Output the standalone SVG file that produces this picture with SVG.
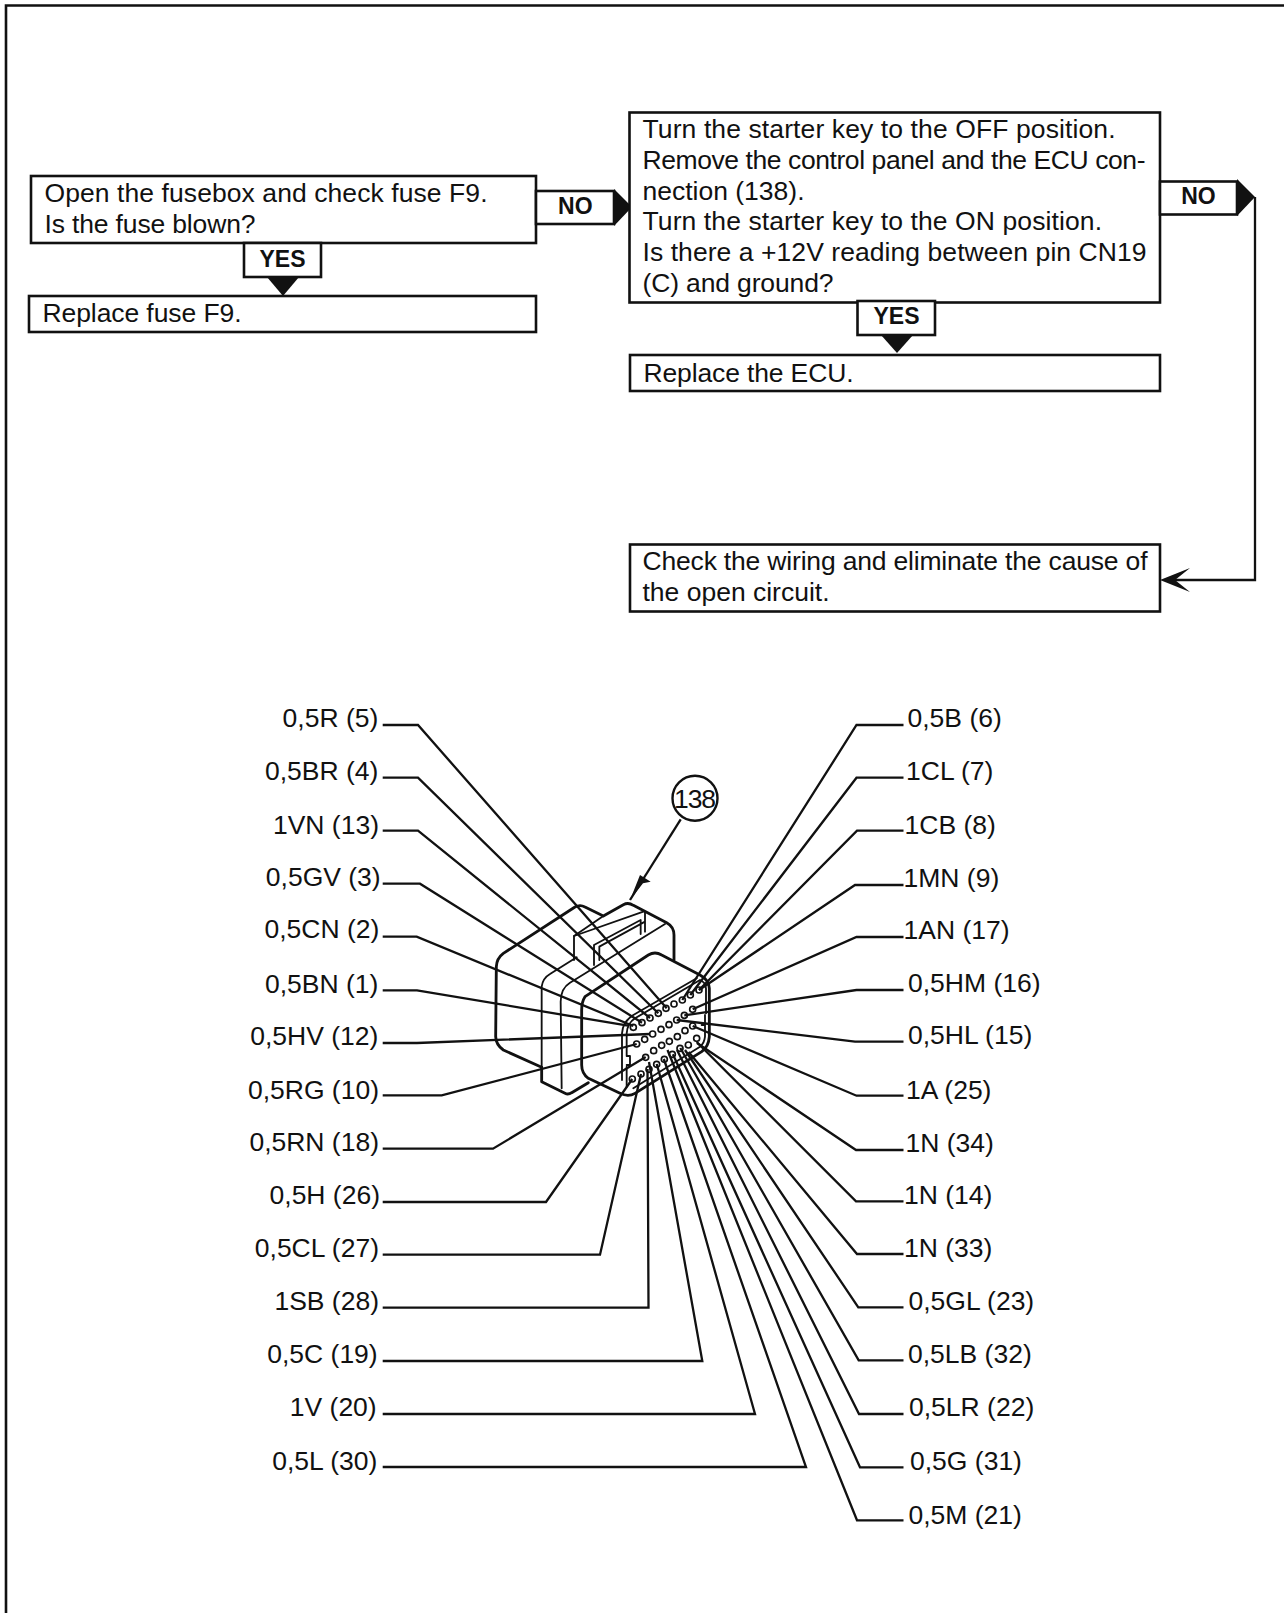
<svg xmlns="http://www.w3.org/2000/svg" width="1284" height="1613" viewBox="0 0 1284 1613">
<style>
text{font-family:"Liberation Sans",Arial,sans-serif;fill:#111}
.t{font-size:26.5px}
.l{font-size:26.5px}
.e{text-anchor:end}
.b{font-size:23px;font-weight:700;text-anchor:middle}
.box{fill:#fff;stroke:#111;stroke-width:2.6}
.w{fill:none;stroke:#111;stroke-width:2.3;stroke-linejoin:miter}
.k{fill:#111;stroke:none}
.o{fill:none;stroke:#111;stroke-width:8.5;stroke-linejoin:round;stroke-linecap:round}
.o2{fill:none;stroke:#111;stroke-width:5.5;stroke-linejoin:round;stroke-linecap:round}
.p{fill:none;stroke:#111;stroke-width:5}
</style>
<rect width="1284" height="1613" fill="#fff"/>
<path id="frame" d="M6 1613V5.5H1284" fill="none" stroke="#111" stroke-width="2.6"/>

<g id="connector-body" transform="translate(470 780) scale(.33333)">
<path class="o" d="M612 540V465Q612 440 590 428L490 376Q475 366 460 374L400 408L345 381Q330 373 315 381L100 520Q80 535 79 560L77 770Q78 795 100 810L215 862"/>
<path class="o" d="M215 862V905L285 940Q295 945 305 938L355 908"/>
<path class="o2" d="M215 862V620Q218 595 240 582L320 532"/>
<path class="o2" d="M275 925L272 665Q272 625 300 608L585 432"/>
<path class="o2" d="M312 540V468L520 395"/>
<path class="o2" d="M312 468L400 408M372 555V495L512 420V462M388 540V500L525 425V455M525 395V450"/>
<path class="o" d="M345 650L535 525Q555 513 575 525L690 585Q717 600 718 625V770Q716 800 695 815L495 940Q475 952 450 940L355 895Q335 880 335 855V690Q335 665 345 650"/>
<path class="o2" d="M456 900V760Q458 725 490 705L680 595"/>
<path class="o2" d="M470 920V860M470 800V760Q472 730 495 715L690 600Q706 606 708 625V700"/>
<path class="o2" d="M470 800V828H480V855H470M705 705V735H695M705 735V770Q703 790 690 800L490 925"/>
<g class="p">
<circle cx="490" cy="742" r="9"/><circle cx="516" cy="728" r="9"/><circle cx="540" cy="714" r="9"/><circle cx="565" cy="700" r="9"/><circle cx="588" cy="685" r="9"/><circle cx="612" cy="672" r="9"/><circle cx="637" cy="660" r="9"/><circle cx="661" cy="645" r="9"/><circle cx="687" cy="630" r="9"/>
<circle cx="500" cy="792" r="9"/><circle cx="524" cy="778" r="9"/><circle cx="548" cy="762" r="9"/><circle cx="573" cy="748" r="9"/><circle cx="597" cy="734" r="9"/><circle cx="620" cy="720" r="9"/><circle cx="643" cy="706" r="9"/><circle cx="668" cy="688" r="9"/>
<circle cx="527" cy="832" r="9"/><circle cx="551" cy="812" r="9"/><circle cx="575" cy="796" r="9"/><circle cx="598" cy="784" r="9"/><circle cx="622" cy="770" r="9"/><circle cx="645" cy="752" r="9"/><circle cx="668" cy="738" r="9"/>
<circle cx="487" cy="897" r="9"/><circle cx="513" cy="882" r="9"/><circle cx="537" cy="868" r="9"/><circle cx="560" cy="853" r="9"/><circle cx="583" cy="838" r="9"/><circle cx="607" cy="823" r="9"/><circle cx="630" cy="805" r="9"/><circle cx="655" cy="795" r="9"/><circle cx="680" cy="775" r="9"/>
</g>
</g>

<g id="connectors">
<path class="w" d="M382.7 725H418L666.7 1008.3"/>
<path class="w" d="M382.7 777.7H418L658.3 1013.3"/>
<path class="w" d="M382.7 830.7H418L650 1018"/>
<path class="w" d="M382.7 883.7H420L642 1022.7"/>
<path class="w" d="M382.7 936.7H416.7L633.3 1026"/>
<path class="w" d="M382.7 990.3H417L628 1025.7"/>
<path class="w" d="M382.7 1043H417L650 1034"/>
<path class="w" d="M382.7 1095.3H441.7L636.7 1044"/>
<path class="w" d="M382.7 1148.7H493L645.7 1057"/>
<path class="w" d="M382.7 1202H546L632.3 1079"/>
<path class="w" d="M382.7 1254.7H600L641 1074"/>
<path class="w" d="M382.7 1307.7H648.5L647.5 1069"/>
<path class="w" d="M382.7 1361H702.3L649 1062"/>
<path class="w" d="M382.7 1414H755L656.7 1064"/>
<path class="w" d="M382.7 1467H806L663.8 1059"/>
<path class="w" d="M903.5 725H856.5L682.3 1000"/>
<path class="w" d="M903.5 777.7H856.5L690.3 995"/>
<path class="w" d="M903.5 830.7H857L699 990"/>
<path class="w" d="M903.5 885H855L699 990"/>
<path class="w" d="M903.5 937H856.5L692.7 1009.3"/>
<path class="w" d="M903.5 990H856.5L684.3 1015.3"/>
<path class="w" d="M903.5 1041.7H855L676.7 1020"/>
<path class="w" d="M903.5 1095.7H856.5L692.7 1026"/>
<path class="w" d="M903.5 1150H856L697 1043"/>
<path class="w" d="M903.5 1201.3H856L696.7 1042"/>
<path class="w" d="M903.5 1254H857L688.6 1052"/>
<path class="w" d="M903.5 1307.3H858.3L685 1050"/>
<path class="w" d="M903.5 1360.3H858.7L680.3 1048"/>
<path class="w" d="M903.5 1414H859L677 1050"/>
<path class="w" d="M903.5 1467.3H860L672.9 1054.3"/>
<path class="w" d="M903.5 1520.3H857L667.5 1050"/>
<path class="w" d="M680.7 819.3L630 900"/>
<path class="k" d="M630 900L640 875L650.7 881.7L643 883.3Z"/>
<path class="w" d="M1255 197V580H1170"/>
<path class="k" d="M1160 580L1190 568L1175 580L1190 592Z"/>
</g>

<g id="callout-138"><circle cx="695" cy="798.3" r="22.5" fill="#fff" stroke="#111" stroke-width="2.4"/><text x="695" y="808" font-size="26.5" text-anchor="middle" textLength="42">138</text></g>

<g id="n-fuse"><rect class="box" x="31" y="176" width="505" height="67"/><text class="t" x="44.5" y="202.2" textLength="443">Open the fusebox and check fuse F9.</text><text class="t" x="44.5" y="233" textLength="211">Is the fuse blown?</text></g>
<g id="n-no1"><rect class="box" x="536" y="191" width="78" height="33"/><path class="k" d="M614 189L632 207L614 226Z"/><text class="b" x="575.3" y="214">NO</text></g>
<g id="n-yes1"><rect class="box" x="244" y="243" width="77" height="34"/><path class="k" d="M267 277H299L283 296Z"/><text class="b" x="282.5" y="266.7">YES</text></g>
<g id="n-replace-fuse"><rect class="box" x="29" y="296" width="507" height="36"/><text class="t" x="42.5" y="322" textLength="199">Replace fuse F9.</text></g>
<g id="n-starter"><rect class="box" x="629.5" y="112.5" width="530.5" height="190"/>
<text class="t" x="642.5" y="138.3" textLength="473">Turn the starter key to the OFF position.</text>
<text class="t" x="642.5" y="169" textLength="503">Remove the control panel and the ECU con-</text>
<text class="t" x="642.5" y="200" textLength="162">nection (138).</text>
<text class="t" x="642.5" y="230" textLength="459.5">Turn the starter key to the ON position.</text>
<text class="t" x="642.5" y="261" textLength="504">Is there a +12V reading between pin CN19</text>
<text class="t" x="642.5" y="291.5" textLength="191">(C) and ground?</text></g>
<g id="n-no2"><rect class="box" x="1160" y="181.5" width="77" height="33"/><path class="k" d="M1237 179L1255 197L1237 216Z"/><text class="b" x="1198.5" y="204">NO</text></g>
<g id="n-yes2"><rect class="box" x="857.5" y="301" width="77.5" height="34"/><path class="k" d="M881 335H913L897 353Z"/><text class="b" x="896.5" y="323.8">YES</text></g>
<g id="n-replace-ecu"><rect class="box" x="630" y="355" width="530" height="36"/><text class="t" x="643.5" y="381.5" textLength="210">Replace the ECU.</text></g>
<g id="n-check"><rect class="box" x="630" y="544.5" width="530" height="67"/><text class="t" x="642.5" y="569.8" textLength="505">Check the wiring and eliminate the cause of</text><text class="t" x="642.5" y="600.5" textLength="187">the open circuit.</text></g>

<g id="labels-left">
<text class="l e" x="378.3" y="726.5">0,5R (5)</text>
<text class="l e" x="378.3" y="780">0,5BR (4)</text>
<text class="l e" x="379" y="833.8">1VN (13)</text>
<text class="l e" x="380.7" y="886">0,5GV (3)</text>
<text class="l e" x="379.3" y="938.3">0,5CN (2)</text>
<text class="l e" x="378.3" y="992.7">0,5BN (1)</text>
<text class="l e" x="378.3" y="1044.8">0,5HV (12)</text>
<text class="l e" x="379" y="1099">0,5RG (10)</text>
<text class="l e" x="379" y="1151">0,5RN (18)</text>
<text class="l e" x="380" y="1204">0,5H (26)</text>
<text class="l e" x="379" y="1256.7">0,5CL (27)</text>
<text class="l e" x="379" y="1309.8">1SB (28)</text>
<text class="l e" x="377.7" y="1362.7">0,5C (19)</text>
<text class="l e" x="376.7" y="1416">1V (20)</text>
<text class="l e" x="377.3" y="1470">0,5L (30)</text>
</g>
<g id="labels-right">
<text class="l" x="907.5" y="726.7">0,5B (6)</text>
<text class="l" x="906" y="780">1CL (7)</text>
<text class="l" x="904.5" y="834">1CB (8)</text>
<text class="l" x="903.5" y="886.7">1MN (9)</text>
<text class="l" x="903.5" y="939">1AN (17)</text>
<text class="l" x="908" y="991.7">0,5HM (16)</text>
<text class="l" x="908" y="1044">0,5HL (15)</text>
<text class="l" x="906" y="1098.5">1A (25)</text>
<text class="l" x="905.5" y="1151.7">1N (34)</text>
<text class="l" x="904" y="1203.5">1N (14)</text>
<text class="l" x="904" y="1256.7">1N (33)</text>
<text class="l" x="908.5" y="1310">0,5GL (23)</text>
<text class="l" x="908" y="1362.7">0,5LB (32)</text>
<text class="l" x="909" y="1416">0,5LR (22)</text>
<text class="l" x="910" y="1470">0,5G (31)</text>
<text class="l" x="908.5" y="1524.3">0,5M (21)</text>
</g>
</svg>
